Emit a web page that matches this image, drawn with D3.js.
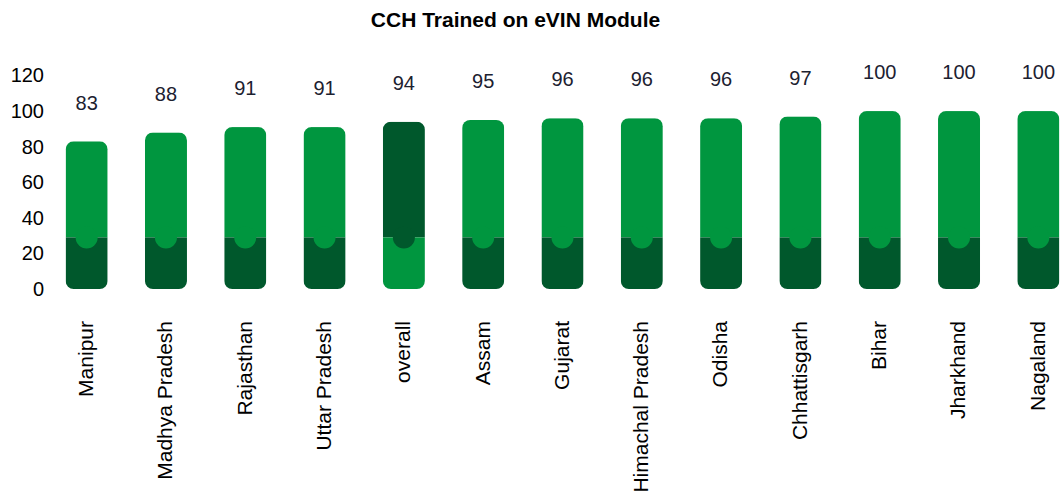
<!DOCTYPE html>
<html>
<head>
<meta charset="utf-8">
<script src="https://cdn.jsdelivr.net/npm/d3@7"></script>
<style>
  html, body { margin: 0; padding: 0; background: #fff; }
  svg { display: block; font-family: Arial, "Liberation Sans", sans-serif; }
</style>
</head>
<body>
<svg id="chart" width="1063" height="495"></svg>
<script>
const categories = ["Manipur", "Madhya Pradesh", "Rajasthan", "Uttar Pradesh", "overall", "Assam", "Gujarat", "Himachal Pradesh", "Odisha", "Chhattisgarh", "Bihar", "Jharkhand", "Nagaland"];
const values = [83, 88, 91, 91, 94, 95, 96, 96, 96, 97, 100, 100, 100];
const baseValue = 29;
const highlight = ["overall"];
const yTicks = [0, 20, 40, 60, 80, 100, 120];
const titleText = "CCH Trained on eVIN Module";

const light = "#00963f";
const dark = "#00582c";

const svg = d3.select("#chart");

const x = d3.scaleBand()
  .domain(categories)
  .range([47.0, 1078.0])
  .paddingInner(0.47)
  .paddingOuter(0.235);

const y = d3.scaleLinear().domain([0, 120]).range([289, 75.5]);

svg.append("text")
  .attr("x", 515.5).attr("y", 21)
  .attr("text-anchor", "middle")
  .attr("dominant-baseline", "middle")
  .attr("font-weight", "bold")
  .attr("font-size", 21)
  .attr("fill", "#000")
  .text(titleText);

// y axis labels
const yAxis = d3.axisLeft(y).tickValues(yTicks).tickSize(0).tickPadding(0);
const yg = svg.append("g").attr("transform", "translate(44,0)").call(yAxis);
yg.select(".domain").remove();
yg.selectAll("text").attr("font-size", 20).attr("fill", "#000")
  .attr("font-family", "Arial, 'Liberation Sans', sans-serif");

// x axis labels
const xAxis = d3.axisBottom(x).tickSize(0).tickPadding(0);
const xg = svg.append("g").attr("transform", "translate(-1,321)").call(xAxis);
xg.select(".domain").remove();
xg.selectAll("text")
  .attr("font-size", 21).attr("fill", "#000")
  .attr("font-family", "Arial, 'Liberation Sans', sans-serif")
  .attr("text-anchor", "end")
  .attr("transform", "rotate(-90)")
  .attr("x", 0).attr("y", 0).attr("dy", "0.35em");

const defs = svg.append("defs");
const r = 8;
const notchR = 11;

categories.forEach((c, i) => {
  const v = values[i];
  const bx = x(c), bw = x.bandwidth();
  const top = y(v), bottom = y(0), mid = y(baseValue);
  const isHi = highlight.includes(c);
  const topColor = isHi ? dark : light;
  const botColor = isHi ? light : dark;
  const id = "clip" + i;
  defs.append("clipPath").attr("id", id)
    .append("rect").attr("x", bx).attr("y", top).attr("width", bw).attr("height", bottom - top)
    .attr("rx", r).attr("ry", r);
  const g = svg.append("g").attr("clip-path", `url(#${id})`);
  g.append("rect").attr("x", bx).attr("y", top).attr("width", bw).attr("height", mid - top).attr("fill", topColor);
  g.append("rect").attr("x", bx).attr("y", mid).attr("width", bw).attr("height", bottom - mid).attr("fill", botColor);
  g.append("circle").attr("cx", bx + bw / 2).attr("cy", mid).attr("r", notchR).attr("fill", topColor);

  svg.append("text")
    .attr("x", bx + bw / 2).attr("y", top - 37)
    .attr("text-anchor", "middle").attr("dominant-baseline", "middle")
    .attr("font-size", 20).attr("fill", "#1c2130")
    .text(v);
});
</script>
</body>
</html>
